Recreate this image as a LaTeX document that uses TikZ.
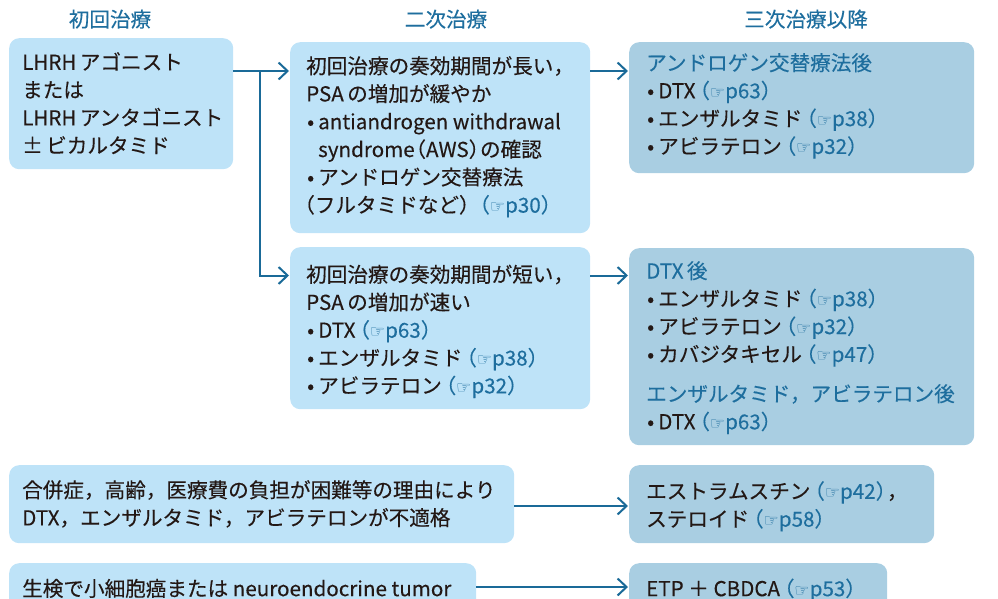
\documentclass[tikz,border=0pt]{standalone}
\usepackage{fontspec}
\setmainfont{Noto Sans CJK JP}[FakeBold=0.25]
\newfontfamily\djv{DejaVu Sans}
\usetikzlibrary{arrows.meta,calc}
\definecolor{lb}{HTML}{BEE3F8}
\definecolor{db}{HTML}{A9CEE2}
\definecolor{tb}{HTML}{1E6E9E}
\definecolor{ab}{HTML}{1A6A98}
\definecolor{tk}{HTML}{231815}
\newcommand\hand{{\djv\fontsize{17pt}{17pt}\selectfont ☞}}
\newcommand\pref[1]{\textcolor{tb}{\kern-0.3em（\hand p#1）}}
\newcommand\bul{\makebox[12pt][l]{\makebox[9pt][c]{•}}}
\tikzset{
  txt/.style={anchor=north west, inner sep=0pt, align=left, text=tk,
    font=\fontsize{20.6pt}{27.8pt}\selectfont, execute at begin node=\rule{0pt}{20pt}},
  hdr/.style={anchor=base, inner sep=0pt, text=tb, font=\fontsize{20.6pt}{24pt}\selectfont},
  lbox/.style={fill=lb, rounded corners=10pt, draw=none, anchor=north west, inner sep=0pt},
  dbox/.style={lbox, fill=db},
  conn/.style={draw=ab, line width=2pt, shorten >=1pt,
    -{Straight Barb[length=9pt,width=17pt,line width=2pt]}},
}
\begin{document}
\begin{tikzpicture}[x=1pt,y=-1pt]
\clip (0,0) rectangle (998,599);
% boxes
\node[lbox, minimum width=224pt, minimum height=131pt] (a) at (9,38) {};
\node[lbox, minimum width=300pt, minimum height=191pt] (b1) at (290,42) {};
\node[lbox, minimum width=300pt, minimum height=162pt] (b2) at (290,247) {};
\node[dbox, minimum width=345pt, minimum height=131pt] (c1) at (629,42) {};
\node[dbox, minimum width=345pt, minimum height=197pt] (c2) at (629,248) {};
\node[lbox, minimum width=505pt, minimum height=78pt] (d1) at (9,465) {};
\node[dbox, minimum width=305pt, minimum height=78pt] (e1) at (629,465) {};
\node[lbox, minimum width=467pt, minimum height=78pt] (d2) at (9,563) {};
\node[dbox, minimum width=258pt, minimum height=78pt] (e2) at (629,563) {};
% headers
\node[hdr] (h1) at (110,27) {初回治療};
\node[hdr] (h2) at (446,27) {二次治療};
\node[hdr] (h3) at (806,27) {三次治療以降};
% texts
\node[txt] (ta) at (22,52) {LHRH\,アゴニスト\\または\\LHRH\,アンタゴニスト\\±\,ビカルタミド};
\node[txt] (tb1) at (306,56) {初回治療の奏効期間が長い，\\PSA\,の増加が緩やか\\\bul antiandrogen withdrawal\\\hspace*{12pt}syndrome\kern-0.45em（AWS）\kern-0.45em の確認\\\bul アンドロゲン交替療法\\\hspace*{-12pt}（フルタミドなど）\kern-0.2em\pref{30}};
\node[txt] (tb2) at (306,264.5) {初回治療の奏効期間が短い，\\PSA\,の増加が速い\\\bul DTX\pref{63}\\\bul エンザルタミド\pref{38}\\\bul アビラテロン\pref{32}};
\node[txt] (tc1) at (646,53) {\textcolor{tb}{アンドロゲン交替療法後}\\\bul DTX\pref{63}\\\bul エンザルタミド\pref{38}\\\bul アビラテロン\pref{32}};
\node[txt] (tc2) at (646,261) {\textcolor{tb}{DTX\,後}\\\bul エンザルタミド\pref{38}\\\bul アビラテロン\pref{32}\\\bul カバジタキセル\pref{47}};
\node[txt] (tc3) at (646,384) {\textcolor{tb}{エンザルタミド，アビラテロン後}\\\bul DTX\pref{63}};
\node[txt] (td1) at (22,480) {合併症，高齢，医療費の負担が困難等の理由により\\DTX，エンザルタミド，アビラテロンが不適格};
\node[txt] (te1) at (646,481) {エストラムスチン\pref{42}\kern-0.45em，\\ステロイド\pref{58}};
\node[txt] (td2) at (22,576) {生検で小細胞癌または neuroendocrine tumor};
\node[txt] (te2) at (646,576) {ETP ＋ CBDCA\pref{53}};
% connectors
\coordinate (j1) at (260,71);
\coordinate (j2) at (260,275.5);
\coordinate (j4) at (560,506);
\coordinate (j5) at (560,587);
\draw[conn] (a.east |- j1) -- (b1.west |- j1);
\draw[conn] (j1) |- (b2.west |- j2);
\draw[conn] (b1.east |- j1) -- (c1.west |- j1);
\draw[conn] (b2.east |- j2) -- (c2.west |- j2);
\draw[conn] (d1.east |- j4) -- (e1.west |- j4);
\draw[conn] (d2.east |- j5) -- (e2.west |- j5);
\end{tikzpicture}
\end{document}
